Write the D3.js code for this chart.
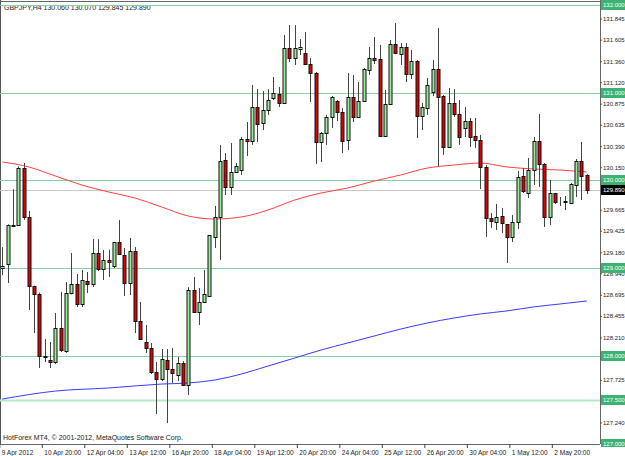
<!DOCTYPE html>
<html>
<head>
<meta charset="utf-8">
<script src="https://cdn.jsdelivr.net/npm/d3@7"></script>
<style>
body{margin:0;background:#fff;}
svg{display:block;font-family:"Liberation Sans",Arial,sans-serif;}
</style>
</head>
<body>
<svg id="chart" width="625" height="456"></svg>
<script>
"use strict";
var title = "GBPJPY,H4  130.060 130.070 129.845 129.890";
var copyright = "HotForex MT4, \u00a9 2001-2012, MetaQuotes Software Corp.";

// candles, one entry per H4 bar (bar 1 = 9 Apr 12:00)
var opens = [129.00,129.05,129.49,129.49,130.14,129.58,128.80,128.70,127.99,127.95,
127.93,128.32,128.055,128.716,128.82,128.59,128.853,128.82,129.17,128.99,
129.09,129.02,129.30,129.15,128.83,129.195,128.40,128.157,128.09,127.815,
127.735,127.952,127.85,127.781,127.92,127.667,128.75,128.50,128.61,128.682,
129.355,129.58,130.233,129.925,130.096,130.118,130.472,130.45,130.84,130.654,
130.80,130.94,130.985,130.88,131.51,131.40,131.498,131.453,131.33,131.225,
130.44,130.54,130.72,130.905,130.78,130.461,130.95,130.72,130.905,131.259,
131.396,131.385,130.506,130.87,131.555,131.441,131.52,131.213,131.36,130.734,
130.826,131.008,131.27,130.962,130.38,130.88,130.757,130.597,130.677,130.506,
130.46,130.153,129.57,129.526,129.594,129.503,129.355,129.53,130.05,129.856,
130.12,130.45,130.187,129.58,129.856,129.754,129.75,129.742,129.947,130.221,130.060];
var highs = [129.24,129.50,129.90,130.16,130.20,129.651,128.80,128.72,128.191,128.157,
128.488,128.727,128.841,129.172,128.933,128.978,128.955,129.332,129.33,129.206,
129.21,129.30,129.548,129.229,129.343,129.24,128.613,128.351,128.146,127.929,
128.077,128.077,128.089,127.986,127.941,128.784,128.898,128.773,128.978,129.377,
129.708,130.404,130.312,130.426,130.198,130.495,130.666,131.088,131.042,131.019,
131.04,131.179,131.065,131.658,131.772,131.77,131.612,131.692,131.396,131.236,
130.552,130.746,130.962,130.917,130.826,131.225,131.202,131.122,131.282,131.521,
131.635,131.544,131.031,131.601,131.795,131.567,131.567,131.487,131.373,130.883,
131.168,131.373,131.738,130.974,131.054,131.042,130.917,130.837,130.711,130.711,
130.518,130.175,129.628,129.731,129.685,129.503,129.605,130.107,130.141,130.255,
130.495,130.757,130.198,130.004,129.856,129.811,129.822,129.970,130.244,130.438,130.070];
var lows = [128.92,128.83,129.47,129.48,129.55,128.522,128.26,127.861,127.929,127.861,
127.906,128.043,128.032,128.70,128.556,128.556,128.716,128.784,128.967,128.864,
128.898,129.00,129.15,128.682,128.693,128.26,128.18,128.032,127.792,127.336,
127.712,127.233,127.690,127.712,127.655,127.553,128.488,128.351,128.602,128.67,
129.229,129.092,129.833,129.833,130.084,130.061,130.278,130.404,130.438,130.575,
130.746,130.917,130.837,130.871,131.350,131.316,131.430,131.316,130.894,130.187,
130.210,130.404,130.597,130.677,130.312,130.347,130.666,130.711,130.894,131.202,
131.327,130.495,130.50,130.86,131.44,131.316,131.122,131.156,130.483,130.575,
130.746,130.962,130.164,130.290,130.370,130.723,130.404,130.495,130.381,130.370,
129.902,129.355,129.457,129.434,129.400,129.058,129.298,129.446,129.856,129.799,
129.947,129.925,129.468,129.491,129.731,129.708,129.662,129.731,129.811,129.776,129.845];
var closes = [129.02,129.49,129.48,130.14,129.58,128.796,128.705,127.998,128.00,127.929,
128.317,128.066,128.716,128.819,128.591,128.864,128.819,129.172,128.99,129.092,
129.069,129.298,129.161,128.83,129.195,128.397,128.19,128.089,127.815,127.735,
127.963,127.849,127.804,127.918,127.667,128.75,128.499,128.613,128.705,129.377,
129.583,130.221,129.925,130.096,130.164,130.472,130.449,130.837,130.643,130.803,
130.917,130.997,130.883,131.51,131.396,131.51,131.521,131.327,131.225,130.438,
130.54,130.723,130.951,130.78,130.449,130.951,130.723,130.905,131.27,131.396,
131.373,130.506,130.871,131.555,131.453,131.521,131.213,131.361,130.734,130.837,
131.088,131.27,130.951,130.381,130.883,130.757,130.495,130.677,130.495,130.461,
130.153,129.571,129.537,129.583,129.514,129.355,129.526,130.039,129.879,130.118,
130.449,130.187,129.583,129.856,129.754,129.754,129.76,129.959,130.221,130.05,129.890];

// moving averages at some bars
var maRedBars = [1,6,11,16,21,26,31,36,41,46,51,56,61,66,71,76,81,86,91,96,101,106,111];
var maRedVals = [130.210,130.153,130.050,129.947,129.868,129.799,129.697,129.594,129.560,129.583,
129.662,129.776,129.856,129.913,129.993,130.062,130.141,130.175,130.198,130.153,130.130,130.118,130.096];
var maBlueBars = [1,11,21,31,36,41,46,51,56,61,66,71,76,81,86,91,96,101,106,111];
var maBlueVals = [127.507,127.598,127.633,127.678,127.690,127.724,127.792,127.883,127.974,128.066,
128.146,128.226,128.305,128.374,128.431,128.477,128.512,128.557,128.591,128.625];

var levels = [132.0,131.0,130.0,129.0,128.0,127.5,127.0];
var bidPrice = 129.890;
var priceTicks = [131.845,131.605,131.360,131.120,130.875,130.635,130.390,130.150,129.665,
129.425,129.180,128.940,128.695,128.455,128.210,127.970,127.725,127.240];
var timeBars = [1,9,17,25,33,41,49,57,65,73,81,89,97,105];
var timeLabels = ["9 Apr 2012","10 Apr 20:00","12 Apr 04:00","13 Apr 12:00","16 Apr 20:00","18 Apr 04:00",
"19 Apr 12:00","20 Apr 20:00","24 Apr 04:00","25 Apr 12:00","26 Apr 20:00","30 Apr 04:00","1 May 12:00","2 May 20:00"];

var plotRight = 600, plotBottom = 444;
var svg = d3.select("#chart");
var x = d3.scaleLinear().domain([1, 111]).range([2.3, 586.7]);
var y = d3.scaleLinear().domain([127, 132]).range([443.5, 5]);

var bars = opens.map(function(o, i){
	return {i: i+1, o: o, h: highs[i], l: lows[i], c: closes[i]};
});

// frame
svg.append("rect").attr("x", 0).attr("y", 0).attr("width", 625).attr("height", 456).attr("fill", "#fff");
svg.append("line").attr("x1", 0.5).attr("x2", 0.5).attr("y1", 0).attr("y2", plotBottom).attr("stroke", "#555");
svg.append("line").attr("x1", 0).attr("x2", plotRight).attr("y1", 1.5).attr("y2", 1.5).attr("stroke", "#666");

svg.append("text").attr("x", 4).attr("y", 9.5).attr("font-size", "7px").attr("fill", "#222").text(title);

// horizontal level lines
svg.selectAll("line.level")
	.data(levels.filter(function(d){ return d > 127; }))
	.enter().append("line")
	.attr("class", "level")
	.attr("x1", 0).attr("x2", plotRight)
	.attr("y1", function(d){ return Math.round(y(d)) + 0.5; })
	.attr("y2", function(d){ return Math.round(y(d)) + 0.5; })
	.attr("stroke", function(d){ return d == 127.5 ? "#b8e6c8" : "#86d0a2"; })
	.attr("stroke-width", function(d){ return d == 127.5 ? 2 : 1; });

// bid line
svg.append("line")
	.attr("x1", 0).attr("x2", plotRight)
	.attr("y1", Math.round(y(bidPrice)) + 0.5).attr("y2", Math.round(y(bidPrice)) + 0.5)
	.attr("stroke", "#c8c8c8");

// moving averages
var lineGen = d3.line().curve(d3.curveMonotoneX);
svg.append("path")
	.attr("d", lineGen(maRedBars.map(function(b, i){ return [x(b), y(maRedVals[i])]; })))
	.attr("fill", "none").attr("stroke", "#ff4040").attr("stroke-width", 1);
svg.append("path")
	.attr("d", lineGen(maBlueBars.map(function(b, i){ return [x(b), y(maBlueVals[i])]; })))
	.attr("fill", "none").attr("stroke", "#3a3aff").attr("stroke-width", 1);

// candles
var candle = svg.selectAll("g.candle")
	.data(bars)
	.enter().append("g")
	.attr("class", "candle");
candle.append("line")
	.attr("x1", function(d){ return Math.round(x(d.i)) + 0.5; })
	.attr("x2", function(d){ return Math.round(x(d.i)) + 0.5; })
	.attr("y1", function(d){ return y(d.h); })
	.attr("y2", function(d){ return y(d.l); })
	.attr("stroke", "#444");
candle.append("rect")
	.attr("x", function(d){ return Math.round(x(d.i)) - 1; })
	.attr("width", 3)
	.attr("y", function(d){ return Math.round(y(Math.max(d.o, d.c))) + 0.5; })
	.attr("height", function(d){ return Math.max(0, Math.round(Math.abs(y(d.o) - y(d.c)))); })
	.attr("fill", function(d){ return d.c >= d.o ? "#98ee98" : "#e00000"; })
	.attr("stroke", "#111").attr("stroke-width", 1);

// price axis
var yAxis = svg.append("g")
	.attr("transform", "translate(" + plotRight + ",0)")
	.call(d3.axisRight(y).tickValues(priceTicks).tickSize(2).tickPadding(1).tickFormat(d3.format(".3f")));
yAxis.select(".domain").attr("stroke", "#666").attr("d", "M0.5,0V" + plotBottom);
yAxis.selectAll(".tick line").attr("stroke", "#555");
yAxis.selectAll("text")
	.attr("font-size", "6px").attr("font-family", "Liberation Sans, Arial, sans-serif").attr("fill", "#222");

// level labels, clipped at the bottom of the chart like the terminal does
svg.append("clipPath").attr("id", "lvlclip")
	.append("rect").attr("x", plotRight).attr("y", 0).attr("width", 25).attr("height", plotBottom + 3);
var lbl = svg.append("g").attr("clip-path", "url(#lvlclip)")
	.selectAll("g.lvl")
	.data(levels.concat([bidPrice]))
	.enter().append("g")
	.attr("class", "lvl")
	.attr("transform", function(d){ return "translate(" + (plotRight + 1) + "," + Math.round(y(d)) + ")"; });
lbl.append("rect")
	.attr("x", 0).attr("y", -5).attr("width", 24).attr("height", 10)
	.attr("fill", function(d){ return d == bidPrice ? "#000" : "#3cb371"; });
lbl.append("text")
	.attr("x", 2).attr("y", 2.2)
	.attr("font-size", "6px").attr("fill", "#fff")
	.text(function(d){ return d3.format(".3f")(d); });

// time axis
var xAxis = svg.append("g")
	.attr("transform", "translate(0," + plotBottom + ")")
	.call(d3.axisBottom(x).tickValues(timeBars).tickSize(4).tickFormat(function(d, i){ return timeLabels[i]; }));
xAxis.select(".domain").attr("stroke", "#666").attr("d", "M0," + 0.5 + "H" + plotRight);
xAxis.selectAll(".tick line").attr("stroke", "#444").attr("transform", "translate(-3,0)");
xAxis.selectAll("text")
	.attr("text-anchor", "start").attr("dx", "-1px").attr("y", 6)
	.attr("font-size", "6.5px").attr("font-family", "Liberation Sans, Arial, sans-serif").attr("fill", "#222");

svg.append("text").attr("x", 3).attr("y", 440).attr("font-size", "7px").attr("fill", "#222").text(copyright);
</script>
</body>
</html>
